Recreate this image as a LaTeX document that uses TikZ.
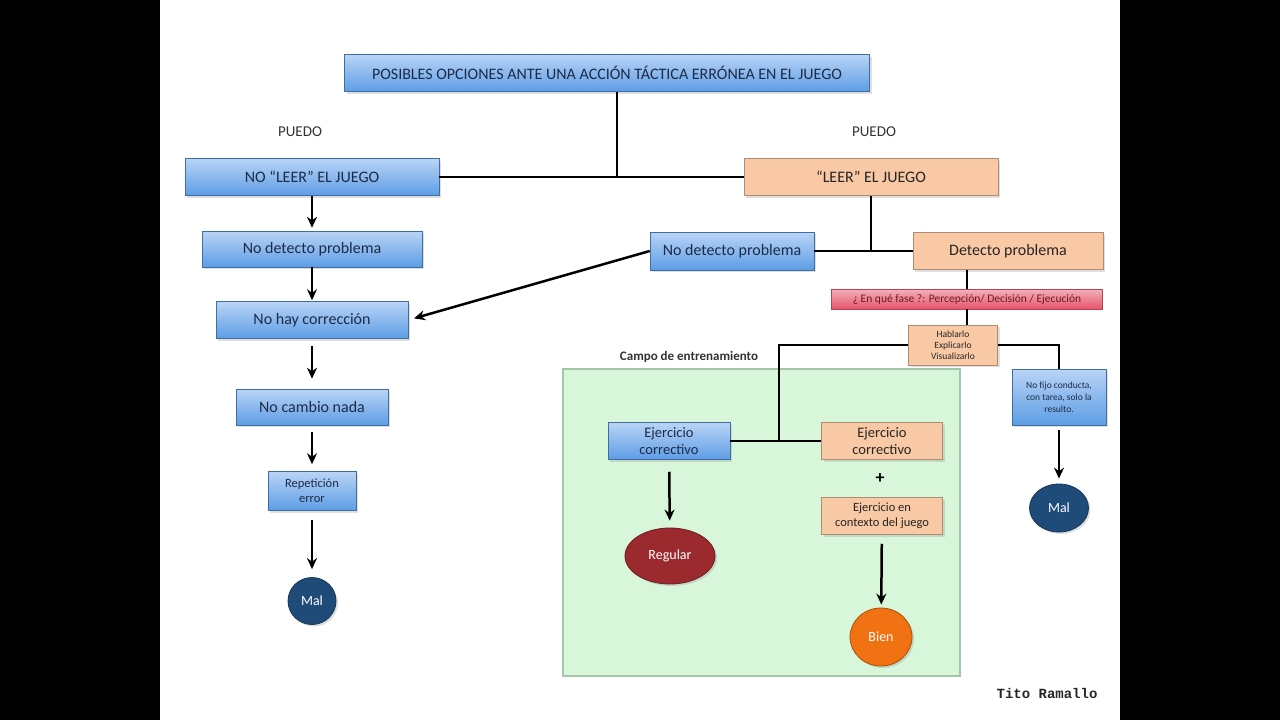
\documentclass[tikz,border=0pt]{standalone}
\usepackage{fontspec}
\setmainfont{Carlito}
\newfontfamily\signfont{Liberation Mono}
\usetikzlibrary{positioning,arrows.meta,shadows,shapes.geometric}
\definecolor{blueTop}{HTML}{B9D4F6}
\definecolor{blueBot}{HTML}{5D9DE5}
\definecolor{peach}{HTML}{F9C8A4}
\definecolor{alertRed}{HTML}{E6526A}
\definecolor{malBlue}{HTML}{1F4B79}
\definecolor{regRed}{HTML}{9B2A2F}
\definecolor{bienOrange}{HTML}{F07212}
\definecolor{fieldGreen}{HTML}{D8F6DA}
\definecolor{fieldEdge}{HTML}{A3C7A6}
\definecolor{txtBlue}{HTML}{1E2B47}
\tikzset{
  bluebox/.style={draw=blueBot!70!black,line width=0.5pt,top color=blueTop,bottom color=blueBot,
    align=center,inner sep=2pt,text=txtBlue,font=\fontsize{16}{18}\selectfont,
    drop shadow={opacity=0.25,shadow xshift=2pt,shadow yshift=-2pt}},
  peachbox/.style={draw=peach!70!black,line width=0.5pt,fill=peach,align=center,inner sep=2pt,
    text=black!85,font=\fontsize{16}{18}\selectfont,
    drop shadow={opacity=0.25,shadow xshift=2pt,shadow yshift=-2pt}},
  result/.style={ellipse,draw=#1!70!black,line width=0.8pt,fill=#1,text=white,
    font=\fontsize{14}{16}\selectfont,drop shadow={opacity=0.25,shadow xshift=2pt,shadow yshift=-2pt}},
  label/.style={text=black!80,font=\fontsize{15}{17}\selectfont},
  link/.style={line width=2pt,black},
  arr/.style={-{Stealth[length=11pt,width=10pt]},line width=2.5pt,black},
}
\begin{document}
\begin{tikzpicture}[x=1pt,y=-1pt]
\fill[black] (0,0) rectangle (1280,720);
\fill[white] (160,0) rectangle (1120,720);
\useasboundingbox (0,0) rectangle (1280,720);
% campo de entrenamiento
\node[draw=fieldEdge,line width=1.5pt,fill=fieldGreen,minimum width=397pt,minimum height=307pt] (campo) at (761.5,522.5) {};
\node[label,font=\fontsize{13}{15}\selectfont\bfseries] (campolbl) at (689,357) {Campo de entrenamiento};
% top
\node[bluebox,minimum width=525pt,minimum height=37pt] (title) at (607,73) {POSIBLES OPCIONES ANTE UNA ACCIÓN TÁCTICA ERRÓNEA EN EL JUEGO};
\node[label] (puedo1) at (300,132) {PUEDO};
\node[label] (puedo2) at (874,132) {PUEDO};
\node[bluebox,minimum width=254pt,minimum height=37pt] (noleer) at (312,177) {NO “LEER” EL JUEGO};
\node[peachbox,minimum width=254pt,minimum height=37pt] (leer) at (871,177) {“LEER” EL JUEGO};
\coordinate (j1) at (617,178);
% left column
\node[bluebox,minimum width=220pt,minimum height=36pt] (nodet1) at (312,249) {No detecto problema};
\node[bluebox,minimum width=192pt,minimum height=37pt] (nohay) at (312,320) {No hay corrección};
\node[bluebox,minimum width=152pt,minimum height=36pt] (nocambio) at (312,407) {No cambio nada};
\node[bluebox,minimum width=88pt,minimum height=39pt,font=\fontsize{12.5}{15}\selectfont] (repe) at (312,491) {Repetición\\error};
\node[result=malBlue,minimum width=48pt,minimum height=47pt] (mal1) at (312,601) {Mal};
% right side
\node[bluebox,minimum width=164pt,minimum height=38pt] (nodet2) at (732,251) {No detecto problema};
\node[peachbox,minimum width=190pt,minimum height=37pt] (detecto) at (1008,251) {Detecto problema};
\node[draw=alertRed!80!black,line width=0.5pt,top color=alertRed!45!white,bottom color=alertRed,
  minimum width=271pt,minimum height=20pt,inner sep=1pt,text=regRed!70!black,
  font=\fontsize{11.5}{13}\selectfont] (fase) at (967,299) {¿ En qué fase ?: Percepción/ Decisión / Ejecución};
\node[peachbox,minimum width=89pt,minimum height=40pt,font=\fontsize{9.5}{11}\selectfont] (habla) at (953,345) {Hablarlo\\Explicarlo\\Visualizarlo};
\node[bluebox,minimum width=94pt,minimum height=56pt,font=\fontsize{9.5}{12}\selectfont] (nofijo) at (1059,397) {No fijo conducta,\\con tarea, solo la\\resulto.};
\node[result=malBlue,minimum width=59pt,minimum height=48pt] (mal2) at (1059,508) {Mal};
% training field
\node[bluebox,minimum width=122pt,minimum height=37pt,font=\fontsize{14.5}{17}\selectfont] (ejazul) at (669,441) {Ejercicio\\correctivo};
\node[peachbox,minimum width=121pt,minimum height=37pt,font=\fontsize{14.5}{17}\selectfont] (ejnar) at (882,441) {Ejercicio\\correctivo};
\node[font=\fontsize{18}{20}\selectfont\bfseries] (mas) at (880,479) {+};
\node[peachbox,minimum width=121pt,minimum height=37pt,font=\fontsize{12.5}{15}\selectfont] (ejctx) at (882,516) {Ejercicio en\\contexto del juego};
\node[result=regRed,minimum width=90pt,minimum height=56pt] (regular) at (670,556) {Regular};
\node[result=bienOrange,minimum width=62pt,minimum height=58pt] (bien) at (881,637) {Bien};
\coordinate (j2) at (779,441);
% connectors
\draw[link] (noleer.east) -- (leer.west);
\draw[link] (title.south -| j1) -- (j1);
\draw[link] (nodet2.east) -- (detecto.west);
\draw[link] (leer.south) -- (leer.south |- detecto.west);
\draw[link] (fase.north |- detecto.south) -- (fase.north);
\draw[link] (fase.south) -- (fase.south |- habla.north);
\draw[link] (habla.west) -| (j2);
\draw[link] (ejazul.east) -- (ejnar.west);
\draw[link] (habla.east) -| (nofijo.north);
% arrows
\draw[arr,shorten >=3pt] (noleer) -- (nodet1);
\draw[arr,shorten >=1pt] (nodet1) -- (nohay);
\draw[arr,shorten <=7pt,shorten >=10pt] (nohay) -- (nocambio);
\draw[arr,shorten <=7pt,shorten >=7pt] (nocambio) -- (repe);
\draw[arr,shorten <=9pt,shorten >=8pt] (repe) -- (mal1);
\draw[arr,shorten >=6pt] (nodet2.west) -- (nohay.east);
\draw[arr,shorten <=5pt,shorten >=5pt] (nofijo) -- (mal2);
\draw[arr,shorten <=12pt,shorten >=7pt] (ejazul) -- (regular);
\draw[arr,shorten <=9pt,shorten >=3pt] (ejctx) -- (bien);
% firma
\node[font=\signfont\bfseries\fontsize{14}{16}\selectfont,text=black!85] (firma) at (1047,693) {Tito Ramallo};
\end{tikzpicture}
\end{document}
